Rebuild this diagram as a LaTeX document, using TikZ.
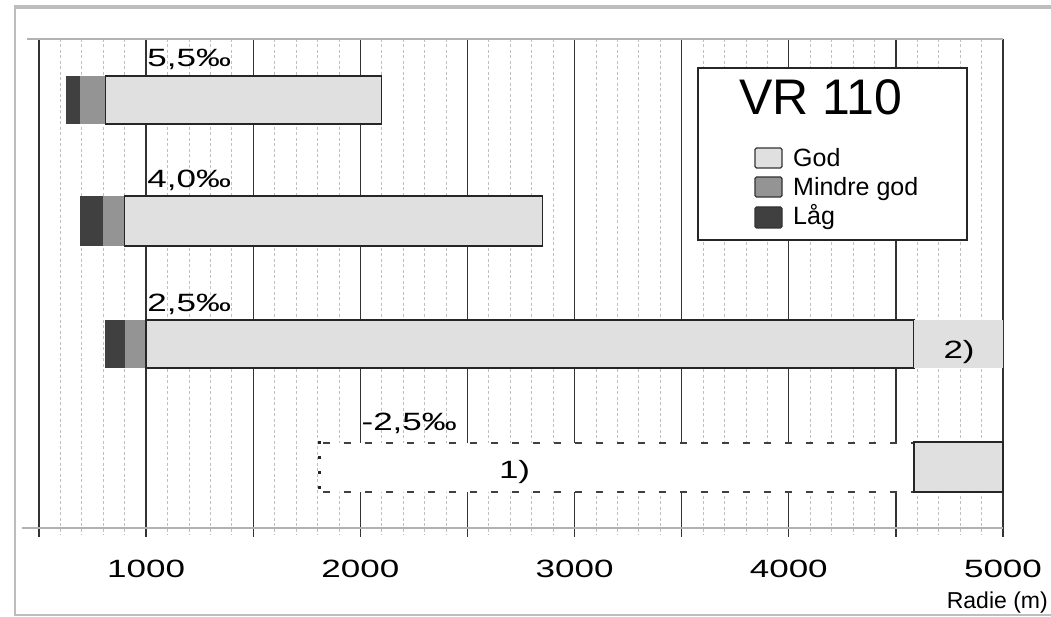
\documentclass[tikz,border=0pt]{standalone}
\usepackage{fontspec}
\setmainfont{Liberation Sans}
\newfontfamily\plotfont{Liberation Sans}[FakeStretch=1.4]
\definecolor{god}{gray}{0.88}
\definecolor{mindre}{gray}{0.58}
\definecolor{lag}{gray}{0.25}
\definecolor{ram}{gray}{0.74}

\begin{document}
\begin{tikzpicture}[x=1pt,y=-1pt]
        \useasboundingbox (0,0) rectangle (1051,617);
        % ram
        \draw[ram, line width=4] (14,7) -- (1051,7);
        \draw[ram, line width=1.3] (15,7) -- (15,615) -- (1051,615);

        \begin{scope}[shift={(-68.11pt,0pt)}, x=0.21422pt,
                        minor/.style={gray!50, line width=0.8, dash pattern=on 3pt off 2.5pt},
                        major/.style={black!80, line width=1.4},
                        godbar/.style={fill=god, draw=black!85, line width=1.3},
                        every node/.style={inner sep=0, font=\plotfont\fontsize{25}{30}\selectfont}]
                % rutnaet
                \foreach \r in {500,600,...,5000}
                        \draw[minor] (\r,39) -- (\r,535);
                \foreach \r in {500,1000,...,5000}
                        \draw[major] (\r,39) -- (\r,537);
                \draw[gray!60, line width=2.5] (444,39) -- (5000,39);
                \draw[gray!60, line width=2.5] (421,528) -- (5000,528);
                \foreach \r in {1000,2000,...,5000}
                        \node[anchor=base] (t\r) at (\r,577) {\r};

                % 5,5
                \fill[lag] (625,76) rectangle (690,124);
                \fill[mindre] (690,76) rectangle (810,124);
                \draw[godbar] (810,76) rectangle (2100,124);
                \node[anchor=base west] (p55) at (1005,67) {5,5‰};

                % 4,0
                \fill[lag] (690,196) rectangle (800,246);
                \fill[mindre] (800,196) rectangle (900,246);
                \draw[godbar] (900,196) rectangle (2850,246);
                \node[anchor=base west] (p40) at (1005,188) {4,0‰};

                % 2,5
                \fill[lag] (810,320) rectangle (900,368);
                \fill[mindre] (900,320) rectangle (1000,368);
                \draw[godbar] (1000,320) rectangle (4585,368);
                \fill[god] (4585,320) rectangle (5000,368);
                \node[anchor=base west] (p25) at (1005,312) {2,5‰};
                \node[anchor=base] (n2) at (4795,358) {2)};

                % -2,5
                \fill[white] (1810,443) rectangle (4585,492);
                \draw[black!75, line width=1.5, dash pattern=on 7pt off 14pt] (1825,443) -- (4585,443);
                \draw[black!75, line width=1.5, dash pattern=on 7pt off 14pt] (1825,492) -- (4585,492);
                \draw[black!85, line width=3, dash pattern=on 3pt off 12pt] (1810,441) -- (1810,494);
                \draw[godbar] (4585,442) rectangle (5000,492);
                \node[anchor=base west] (pm25) at (2005,430) {-2,5‰};
                \node[anchor=base] (n1) at (2720,478) {1)};
        \end{scope}

        % legend
        \begin{scope}[every node/.style={inner sep=0, anchor=base west, font=\fontsize{25}{29}\selectfont},
                        ruta/.style={draw=black!80, line width=1.2, rounded corners=1.5}]
                \draw[fill=white, draw=black!85, line width=1.3] (698,68) rectangle (967,240);
                \node[anchor=base] (vr) at (821,115) {\fontsize{50}{57}\selectfont VR 110};
                \draw[ruta, fill=god] (755,148) rectangle (782,168);
                \node (god) at (793,167) {God};
                \draw[ruta, fill=mindre] (755,177) rectangle (782,197);
                \node (mgod) at (793,196) {Mindre god};
                \draw[ruta, fill=lag] (755,207) rectangle (782,228);
                \node (lag) at (793,225) {Låg};
                \node[anchor=base east, font=\fontsize{23}{27}\selectfont] (radie) at (1048,608) {Radie (m)};
        \end{scope}
\end{tikzpicture}
\end{document}
